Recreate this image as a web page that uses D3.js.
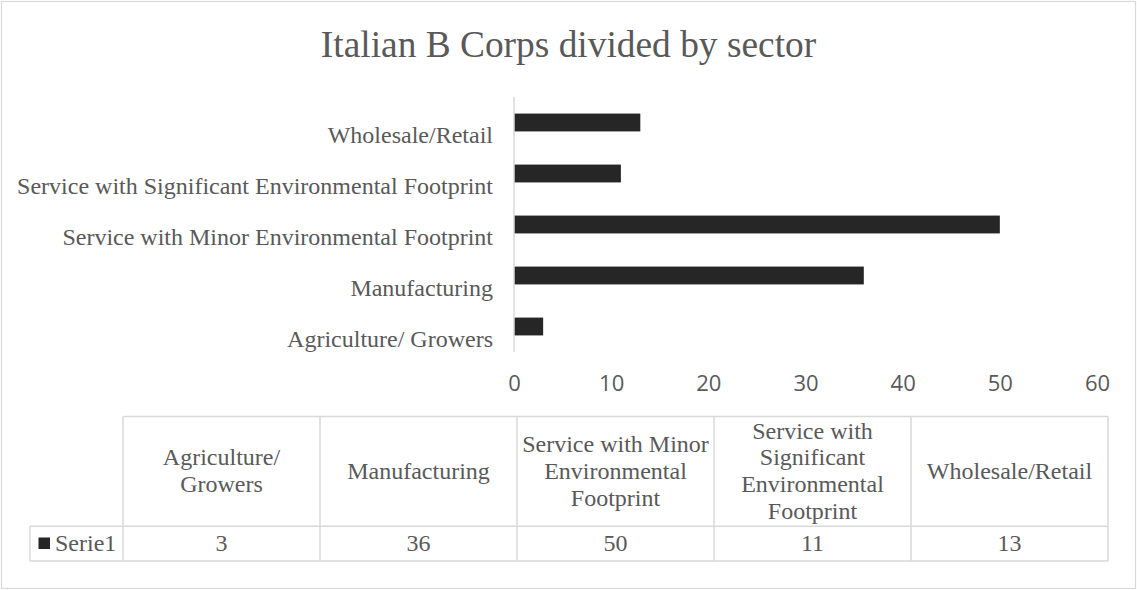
<!DOCTYPE html>
<html>
<head>
<meta charset="utf-8">
<script src="https://cdn.jsdelivr.net/npm/d3@7"></script>
<style>
  html, body { margin: 0; padding: 0; background: #fff; }
  svg { display: block; }
</style>
</head>
<body>
<svg id="chart" width="1137" height="590"></svg>
<script>
// Sector counts of Italian B Corps
const title = "Italian B Corps divided by sector";
const categories = [
  "Agriculture/ Growers",
  "Manufacturing",
  "Service with Minor Environmental Footprint",
  "Service with Significant Environmental Footprint",
  "Wholesale/Retail"
];
const seriesName = "Serie1";
const values = [3, 36, 50, 11, 13];
const xTicks = [0, 10, 20, 30, 40, 50, 60];

const W = 1137, H = 590;
const textColor = "#595959";
const gridColor = "#d9d9d9";
const barColor = "#262626";
const SERIF = '"Liberation Serif"';
const SANS = '"Open Sans"';
const fs = 24;

const svg = d3.select("#chart");

// outer frame
svg.append("rect")
  .attr("x", 1.5).attr("y", 1.5)
  .attr("width", W - 3).attr("height", H - 3)
  .attr("fill", "#fff")
  .attr("stroke", gridColor).attr("stroke-width", 1.2);

// title
svg.append("text")
  .attr("x", W / 2).attr("y", 57)
  .attr("text-anchor", "middle")
  .style("font-family", SERIF).style("font-size", "37.4px")
  .attr("fill", textColor)
  .text(title);

// plot area
const plot = { left: 514, right: 1097, top: 97, bottom: 352 };

const x = d3.scaleLinear().domain([0, 60]).range([plot.left, plot.right]);
// first category at the bottom
const y = d3.scaleBand()
  .domain(categories.slice().reverse())
  .range([plot.top, plot.bottom])
  .paddingInner(0.65)
  .paddingOuter(0.325);

// bars
svg.append("g").selectAll("rect")
  .data(categories.map((c, i) => ({ c, v: values[i] })))
  .join("rect")
  .attr("x", x(0))
  .attr("y", d => y(d.c))
  .attr("width", d => x(d.v) - x(0))
  .attr("height", y.bandwidth())
  .attr("fill", barColor);

// category axis line
svg.append("line")
  .attr("x1", x(0)).attr("x2", x(0))
  .attr("y1", plot.top).attr("y2", plot.bottom)
  .attr("stroke", gridColor).attr("stroke-width", 1.5);

// category labels
const yAxis = d3.axisLeft(y).tickSize(0).tickPadding(21);
const gy = svg.append("g")
  .attr("transform", `translate(${x(0)},0)`)
  .call(yAxis);
gy.select(".domain").remove();
gy.selectAll("text")
  .style("font-family", SERIF).style("font-size", fs + "px")
  .attr("fill", textColor)
  .attr("dy", "0")
  .attr("y", 20);

// value axis labels
const xAxis = d3.axisBottom(x).tickValues(xTicks).tickSize(0).tickPadding(0);
const gx = svg.append("g")
  .attr("transform", `translate(0,${plot.bottom})`)
  .call(xAxis);
gx.select(".domain").remove();
gx.selectAll("text")
  .style("font-family", SANS).style("font-size", "22px")
  .attr("fill", textColor)
  .attr("dy", "0")
  .attr("y", 38.7);

// data table
const table = { left: 123, rowLeft: 30, top: 416.5, mid: 526.3, bottom: 561, right: 1108 };
const col = d3.scaleBand()
  .domain(categories)
  .range([table.left, table.right]);

const tg = svg.append("g");
const line = (x1, y1, x2, y2) => tg.append("line")
  .attr("x1", x1).attr("y1", y1).attr("x2", x2).attr("y2", y2)
  .attr("stroke", gridColor).attr("stroke-width", 1.5);

line(table.left, table.top, table.right, table.top);
line(table.rowLeft, table.mid, table.right, table.mid);
line(table.rowLeft, table.bottom, table.right, table.bottom);
line(table.rowLeft, table.mid, table.rowLeft, table.bottom);
categories.forEach(c => line(col(c), table.top, col(c), table.bottom));
line(table.right, table.top, table.right, table.bottom);

// header cells with word wrapping
const lineH = 26.8;
const maxW = 196;
categories.forEach(c => {
  const t = tg.append("text")
    .style("font-family", SERIF).style("font-size", fs + "px")
    .attr("fill", textColor)
    .attr("text-anchor", "middle");
  const words = c.split(" ");
  const lines = [];
  let cur = "";
  const probe = t.append("tspan");
  words.forEach(w => {
    const trial = cur ? cur + " " + w : w;
    probe.text(trial);
    if (cur && probe.node().getComputedTextLength() > maxW) {
      lines.push(cur);
      cur = w;
    } else {
      cur = trial;
    }
  });
  lines.push(cur);
  probe.remove();
  const cx = col(c) + col.bandwidth() / 2;
  const cy = (table.top + table.mid) / 2 + 7.4;
  lines.forEach((s, i) => {
    t.append("tspan")
      .attr("x", cx)
      .attr("y", cy + (i - (lines.length - 1) / 2) * lineH)
      .text(s);
  });
});

// value row
categories.forEach((c, i) => {
  tg.append("text")
    .attr("x", col(c) + col.bandwidth() / 2)
    .attr("y", 551)
    .attr("text-anchor", "middle")
    .style("font-family", SERIF).style("font-size", fs + "px")
    .attr("fill", textColor)
    .text(values[i]);
});

// series key
tg.append("rect")
  .attr("x", 38.5).attr("y", 537.5)
  .attr("width", 11.5).attr("height", 11.5)
  .attr("fill", barColor);
tg.append("text")
  .attr("x", 55).attr("y", 551)
  .style("font-family", SERIF).style("font-size", fs + "px")
  .attr("fill", textColor)
  .text(seriesName);
</script>
</body>
</html>
